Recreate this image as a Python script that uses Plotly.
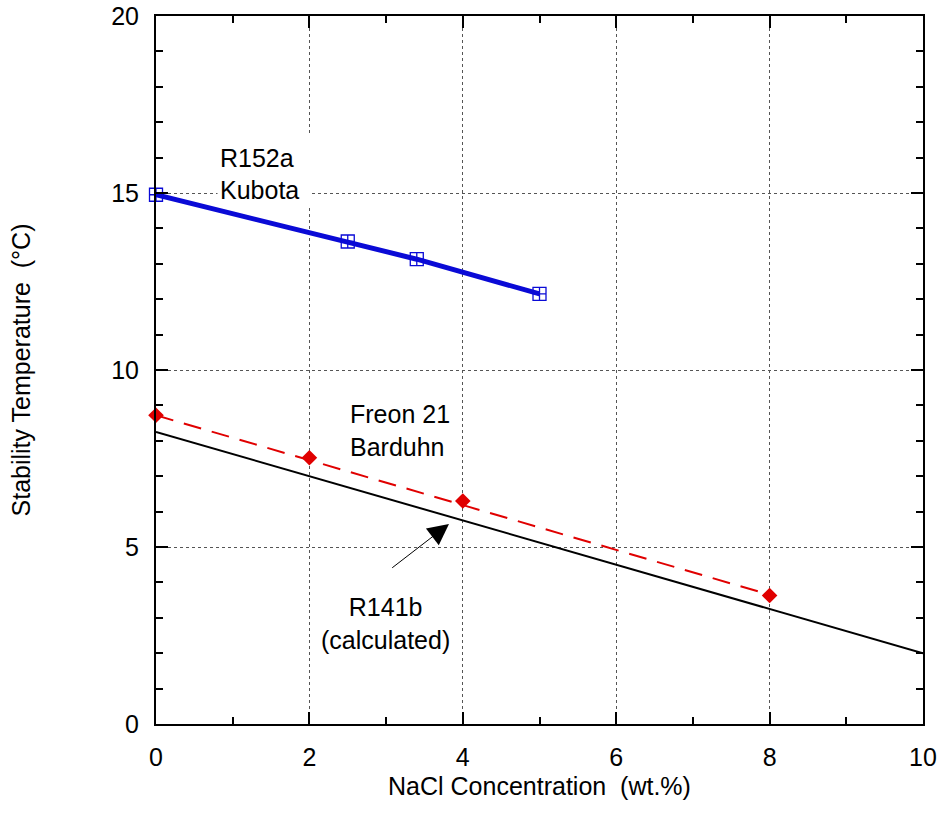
import plotly.graph_objects as go

# R152a hydrate stability temperature vs. NaCl (Kubota)
r152a_nacl = [0.0, 2.5, 3.4, 5.0]
r152a_temp = [14.95, 13.63, 13.13, 12.15]

# Freon 21 measurements (Barduhn)
freon21_nacl = [0, 2, 4, 8]
freon21_temp = [8.72, 7.52, 6.30, 3.63]

# Straight-line fit through the Freon 21 points
freon21_fit_nacl = [0, 8]
freon21_fit_temp = [8.72, 3.65]

# R141b, calculated
r141b_nacl = [0, 10]
r141b_temp = [8.25, 2.0]

x_tick_vals = [0, 2, 4, 6, 8, 10]
y_tick_vals = [0, 5, 10, 15, 20]

FONT = "Liberation Sans, Arial, Helvetica, sans-serif"
FS = 25
BLUE = "#0a0ad6"
RED = "#e00000"

fig = go.Figure()

fig.add_trace(go.Scatter(
    x=r141b_nacl, y=r141b_temp, mode="lines",
    line=dict(color="black", width=2), showlegend=False,
))
fig.add_trace(go.Scatter(
    x=freon21_fit_nacl, y=freon21_fit_temp, mode="lines",
    line=dict(color=RED, width=2, dash="18px,11px"), showlegend=False,
))
fig.add_trace(go.Scatter(
    x=freon21_nacl, y=freon21_temp, mode="markers", cliponaxis=False,
    marker=dict(symbol="diamond", color=RED, size=12, line=dict(width=0)),
    showlegend=False,
))
fig.add_trace(go.Scatter(
    x=r152a_nacl, y=r152a_temp, mode="lines+markers", cliponaxis=False,
    line=dict(color=BLUE, width=5),
    marker=dict(symbol="square-cross-open", color=BLUE, size=13,
                line=dict(color=BLUE, width=1.3)),
    showlegend=False,
))
# companion trace that anchors the mirrored top/right axes
fig.add_trace(go.Scatter(
    x=[None], y=[None], xaxis="x2", yaxis="y2", showlegend=False,
    hoverinfo="skip",
))

axis_common = dict(
    showline=True, linecolor="black", linewidth=2,
    ticks="inside", ticklen=12, tickwidth=2, tickcolor="black",
    zeroline=False, automargin=False,
)
minor_ticks = dict(dtick=1, ticks="inside", ticklen=7, tickwidth=2,
                   tickcolor="black", showgrid=False)

fig.update_layout(
    width=939, height=828,
    margin=dict(l=156, r=16, t=16, b=104),
    plot_bgcolor="white", paper_bgcolor="white",
    font=dict(family=FONT, size=FS, color="black"),
    xaxis=dict(
        range=[0, 10], tickvals=x_tick_vals, **axis_common,
        minor=minor_ticks,
        showgrid=True, gridcolor="#555555", gridwidth=1, griddash="dot",
        ticklabelstandoff=10,
        tickfont=dict(size=FS),
        title=dict(text="NaCl Concentration\u00a0\u00a0(wt.%)",
                   font=dict(size=FS), standoff=7),
    ),
    yaxis=dict(
        range=[0, 20], tickvals=y_tick_vals, **axis_common,
        minor=minor_ticks,
        showgrid=True, gridcolor="#555555", gridwidth=1, griddash="dot",
        ticklabelstandoff=10,
        tickfont=dict(size=FS),
        title=dict(text="Stability Temperature\u00a0\u00a0(\u00b0C)",
                   font=dict(size=FS), standoff=73),
    ),
    xaxis2=dict(
        range=[0, 10], tickvals=x_tick_vals, overlaying="x", side="top",
        anchor="y2", showticklabels=False, showgrid=False, **axis_common,
        minor=minor_ticks,
    ),
    yaxis2=dict(
        range=[0, 20], tickvals=y_tick_vals, overlaying="y", side="right",
        anchor="x2", showticklabels=False, showgrid=False, **axis_common,
        minor=minor_ticks,
    ),
)

# label box with a white background that masks the grid behind it
fig.add_annotation(
    x=0.795, y=15.64, xref="x", yref="y", text="R152a<br>Kubota",
    showarrow=False, xanchor="left", yanchor="middle", align="left",
    valign="bottom", width=88, height=68,
    bgcolor="white", borderpad=2, font=dict(size=FS),
)
fig.add_annotation(
    x=2.5, y=8.3, xref="x", yref="y", text="Freon 21<br>Barduhn",
    showarrow=False, xanchor="left", yanchor="middle", align="left",
    font=dict(size=FS),
)
fig.add_annotation(
    x=2.99, y=2.83, xref="x", yref="y", text="R141b<br>(calculated)",
    showarrow=False, xanchor="center", yanchor="middle", align="center",
    font=dict(size=FS),
)
# pointer from the R141b label to its line
fig.add_annotation(
    x=3.82, y=5.65, xref="x", yref="y",
    ax=3.06, ay=4.38, axref="x", ayref="y",
    text="", showarrow=True, arrowhead=2, arrowsize=4.2, arrowwidth=1,
    arrowcolor="black", standoff=0, startstandoff=0,
)

fig.write_html("out.html")
